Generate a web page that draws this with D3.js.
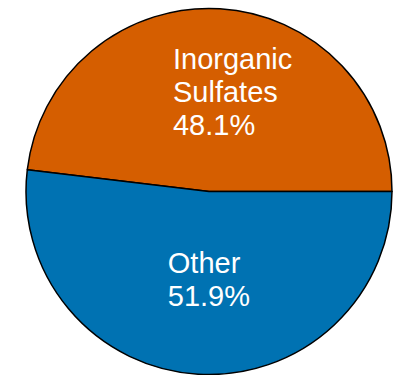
<!DOCTYPE html>
<html>
<head>
<meta charset="utf-8">
<script src="https://cdn.jsdelivr.net/npm/d3@7"></script>
<style>
  html, body { margin: 0; padding: 0; background: #fff; }
  svg { display: block; }
</style>
</head>
<body>
<svg id="chart" width="403" height="375"></svg>
<script>
// Composition shares (percent)
const categories = ["Inorganic Sulfates", "Other"];
const labelLines = [["Inorganic", "Sulfates"], ["Other"]];
const shares = [48.1, 51.9];
const colors = ["#D55E00", "#0072B2"];

const width = 403, height = 375;
const cx = 209, cy = 191.5, radius = 183;

const svg = d3.select("#chart");
const g = svg.append("g").attr("transform", `translate(${cx},${cy})`);

const data = categories.map((c, i) => ({ name: c, value: shares[i], lines: labelLines[i], color: colors[i] }));

// Start at 3 o'clock and run counter-clockwise
const pie = d3.pie()
  .sort(null)
  .value(d => d.value)
  .startAngle(Math.PI / 2)
  .endAngle(Math.PI / 2 - 2 * Math.PI);

const arcs = pie(data);
const arc = d3.arc().innerRadius(0).outerRadius(radius);

g.selectAll("path.slice")
  .data(arcs)
  .join("path")
  .attr("class", "slice")
  .attr("d", arc)
  .attr("fill", d => d.data.color)
  .attr("stroke", "#000")
  .attr("stroke-width", 1.5)
  .attr("stroke-linejoin", "round");

// Label placement: radial position per slice, left-aligned block
const labelRadius = [100, 88];
const labelShift = [-42, -36];
const fontSize = 29, lineHeight = 33.3, capHalf = 10.2;

arcs.forEach((a, i) => {
  const mid = (a.startAngle + a.endAngle) / 2;
  const px = Math.sin(mid) * labelRadius[i];
  const py = -Math.cos(mid) * labelRadius[i];
  const lines = a.data.lines.concat([a.data.value.toFixed(1) + "%"]);
  const y0 = py - (lines.length - 1) * lineHeight / 2 + capHalf;
  const t = g.append("text")
    .attr("x", px + labelShift[i])
    .attr("y", y0)
    .attr("fill", "#fff")
    .attr("font-family", "Liberation Sans, Arial, sans-serif")
    .attr("font-size", fontSize)
    .attr("text-anchor", "start");
  lines.forEach((ln, k) => {
    t.append("tspan")
      .attr("x", px + labelShift[i])
      .attr("y", y0 + k * lineHeight)
      .text(ln);
  });
});
</script>
</body>
</html>
